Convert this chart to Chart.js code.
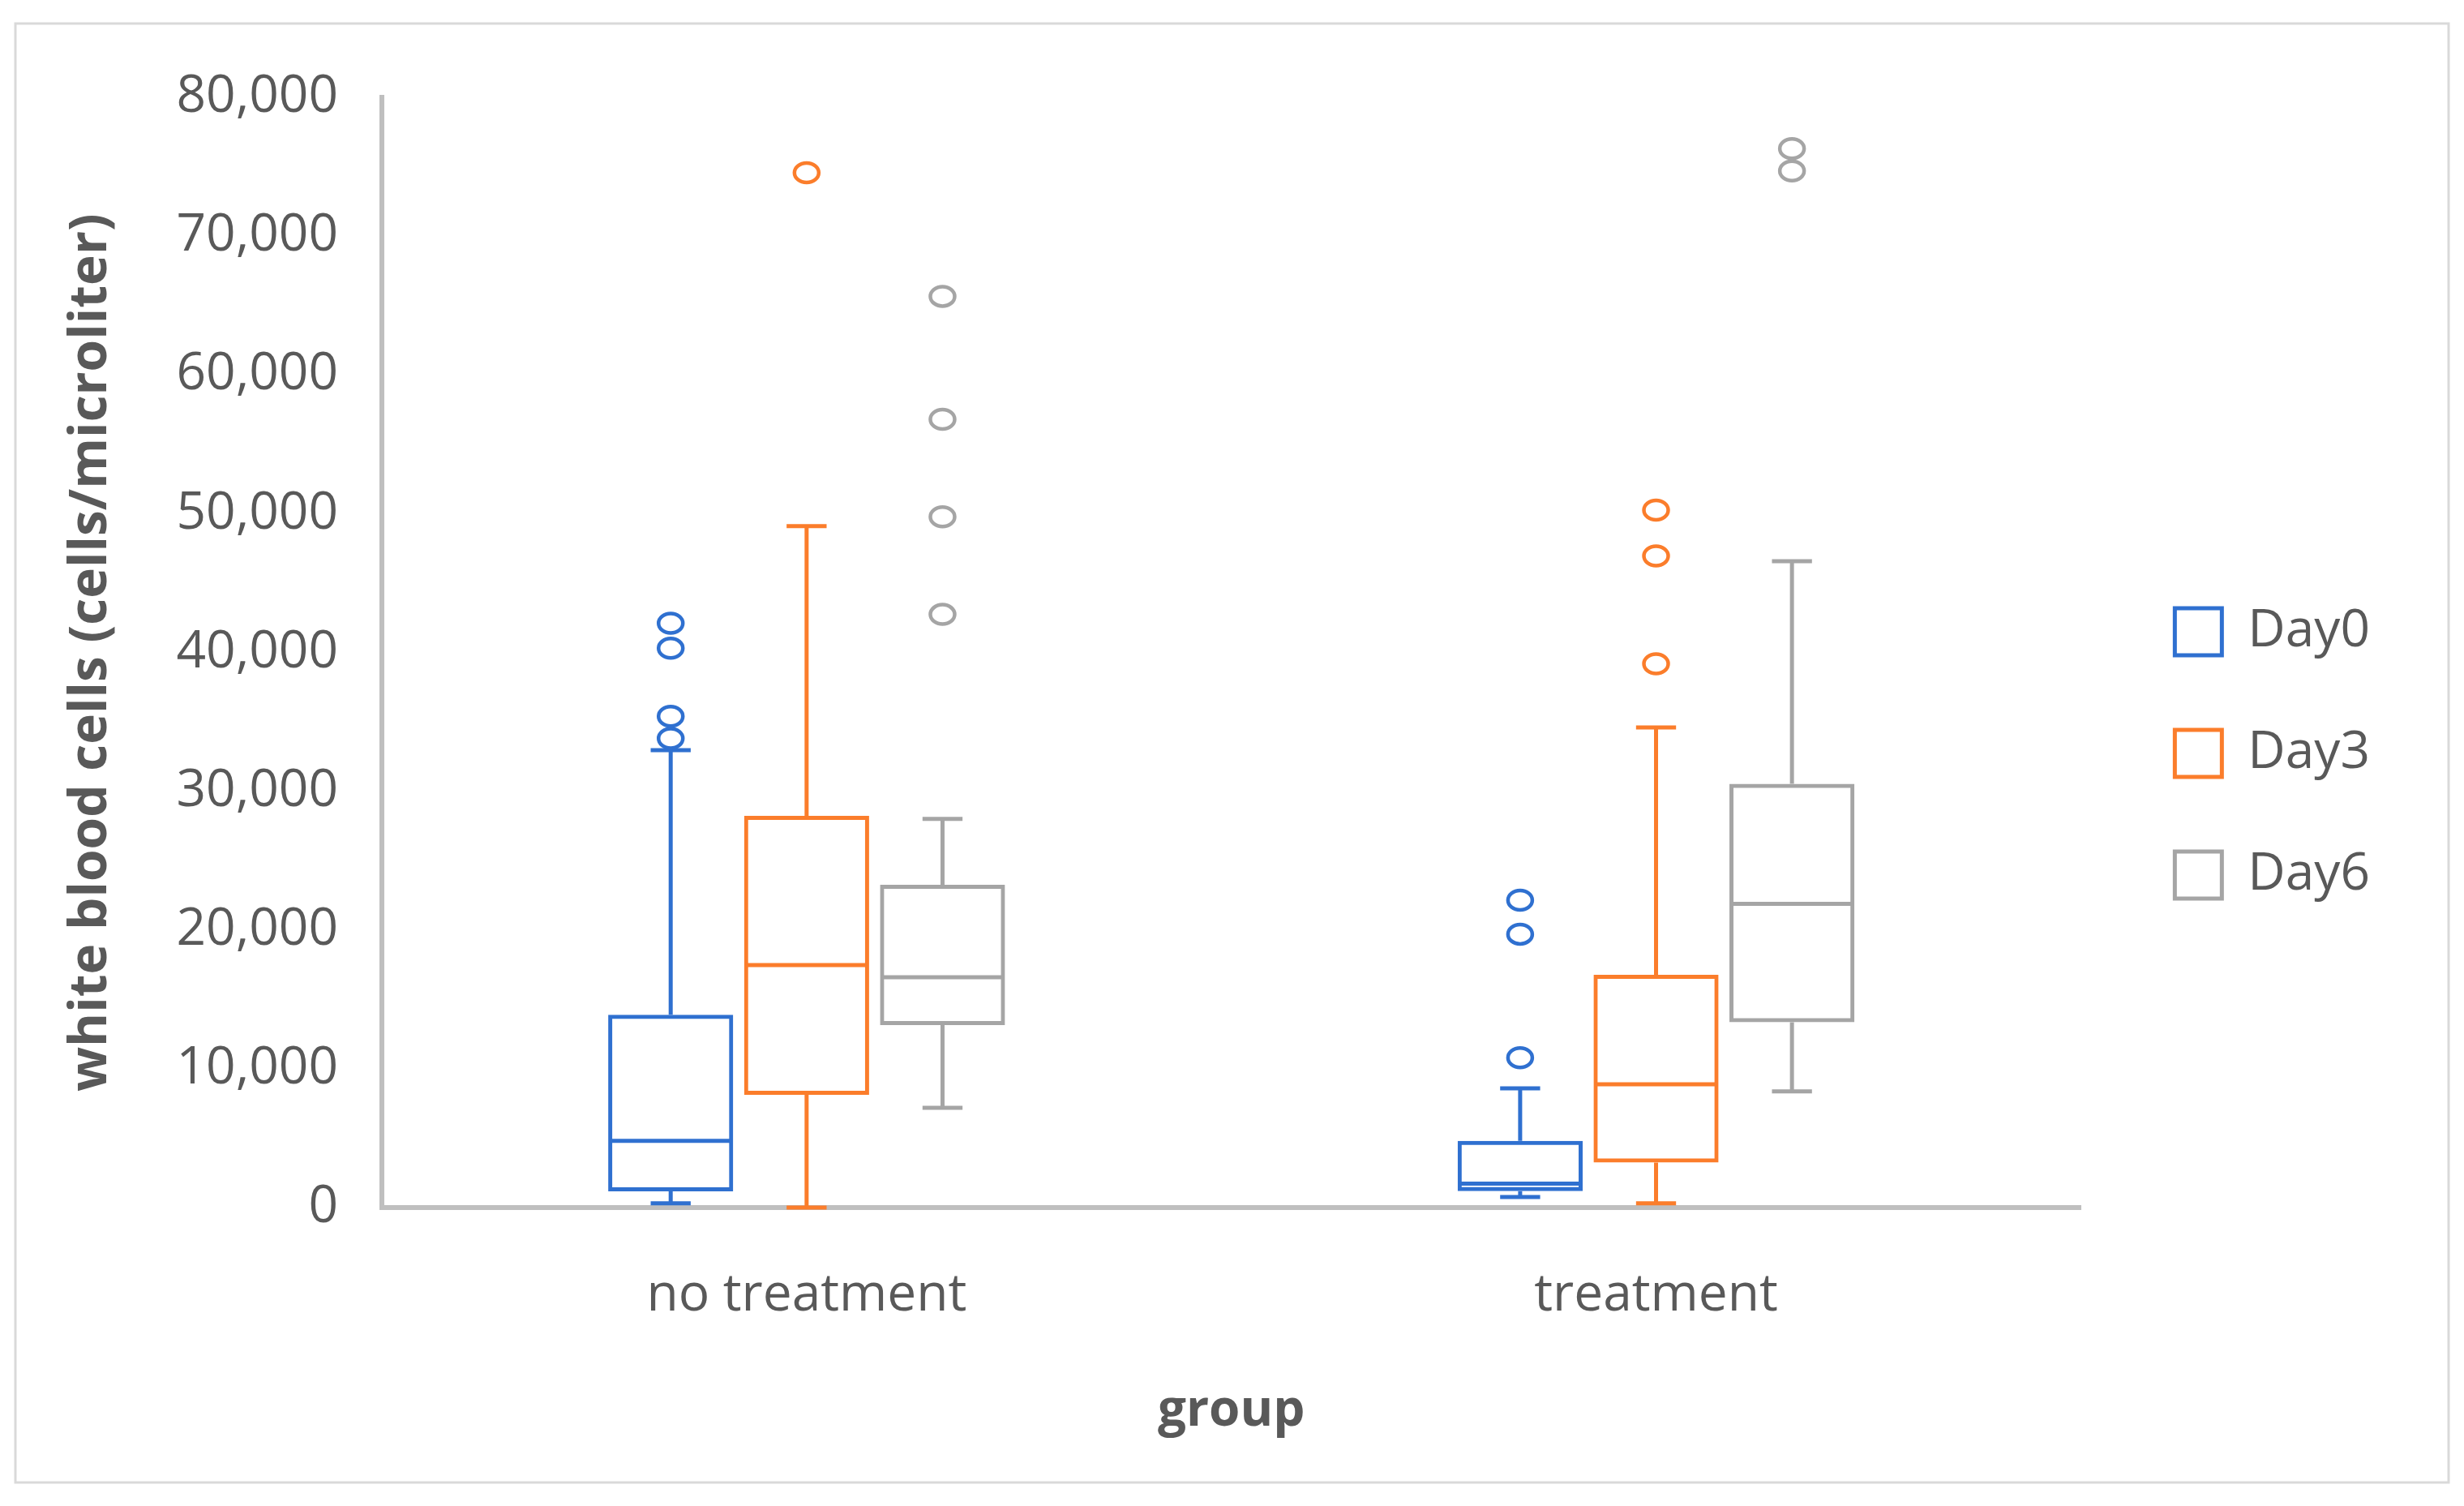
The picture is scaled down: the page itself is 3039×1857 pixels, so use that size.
<!DOCTYPE html>
<html lang="en">
<head>
<meta charset="UTF-8">
<title>White blood cells by group</title>
<script src="https://cdn.jsdelivr.net/npm/chart.js"></script>
<style>
  html, body { margin: 0; padding: 0; background: #fff; }
  .wrap { width: 3039px; height: 1857px; }
</style>
</head>
<body>
<div class="wrap"><canvas id="wbcChart"></canvas></div>
<script>
// categories and series
const groups = ['no treatment', 'treatment'];
const seriesNames = ['Day0', 'Day3', 'Day6'];
const seriesColors = ['#2F70D0', '#FB7D2B', '#A5A5A5'];
const yTicks = [0, 10000, 20000, 30000, 40000, 50000, 60000, 70000, 80000];

// box plot summaries, one entry per group
const day0Min = [300, 760];
const day0Q1 = [1170, 1190];
const day0Median = [4800, 1720];
const day0Q3 = [13900, 4810];
const day0Max = [32960, 8590];
const day0Outliers = [[33800, 35400, 40300, 42100], [10800, 19700, 22150]];

const day3Min = [0, 300];
const day3Q1 = [8120, 3240];
const day3Median = [17470, 8880];
const day3Q3 = [28230, 16770];
const day3Max = [49100, 34600];
const day3Outliers = [[74570], [39180, 46960, 50260]];

const day6Min = [7190, 8370];
const day6Q1 = [13150, 13350];
const day6Median = [16600, 21890];
const day6Q3 = [23260, 30530];
const day6Max = [28000, 46580];
const day6Outliers = [[42740, 49770, 56800, 65660], [74700, 76300]];

const stats = [
  { min: day0Min, q1: day0Q1, median: day0Median, q3: day0Q3, max: day0Max, outliers: day0Outliers },
  { min: day3Min, q1: day3Q1, median: day3Median, q3: day3Q3, max: day3Max, outliers: day3Outliers },
  { min: day6Min, q1: day6Q1, median: day6Median, q3: day6Q3, max: day6Max, outliers: day6Outliers }
];

Chart.defaults.font.family = "'Open Sans', 'Noto Sans', sans-serif";
Chart.defaults.color = '#595959';

// white page with the thin grey frame round the chart
const frame = {
  id: 'frame',
  beforeDraw(chart) {
    const ctx = chart.ctx;
    ctx.save();
    ctx.fillStyle = '#fff';
    ctx.fillRect(0, 0, chart.width, chart.height);
    ctx.strokeStyle = '#d9d9d9';
    ctx.lineWidth = 3;
    ctx.strokeRect(19, 29, chart.width - 38, chart.height - 58);
    ctx.restore();
  }
};

// medians, whiskers and outliers on top of the floating bars
const whiskers = {
  id: 'whiskers',
  afterDatasetsDraw(chart) {
    const ctx = chart.ctx;
    const yScale = chart.scales.y;
    const py = v => yScale.getPixelForValue(v);
    chart.data.datasets.forEach((ds, d) => {
      const s = stats[d];
      chart.getDatasetMeta(d).data.forEach((bar, i) => {
        const x = bar.x;
        const half = bar.width / 2 - 2.5;
        const cap = bar.width * 0.16;
        ctx.save();
        ctx.strokeStyle = ds.borderColor;
        ctx.lineWidth = 5;
        ctx.beginPath();
        ctx.moveTo(x - half, py(s.median[i]));
        ctx.lineTo(x + half, py(s.median[i]));
        ctx.moveTo(x, py(s.q3[i]));
        ctx.lineTo(x, py(s.max[i]));
        ctx.moveTo(x - cap, py(s.max[i]));
        ctx.lineTo(x + cap, py(s.max[i]));
        ctx.moveTo(x, py(s.q1[i]));
        ctx.lineTo(x, py(s.min[i]));
        ctx.moveTo(x - cap, py(s.min[i]));
        ctx.lineTo(x + cap, py(s.min[i]));
        ctx.stroke();
        ctx.lineWidth = 4.5;
        s.outliers[i].forEach(v => {
          ctx.beginPath();
          ctx.ellipse(x, py(v), 15, 12, 0, 0, Math.PI * 2);
          ctx.stroke();
        });
        ctx.restore();
      });
    });
  }
};

const ctx = document.getElementById('wbcChart').getContext('2d');
const wbcChart = new Chart(ctx, {
  type: 'bar',
  data: {
    labels: groups,
    datasets: seriesNames.map((name, d) => ({
      label: name,
      data: groups.map((g, i) => [stats[d].q1[i], stats[d].q3[i]]),
      backgroundColor: 'rgba(255,255,255,0)',
      borderColor: seriesColors[d],
      borderWidth: 5,
      borderSkipped: false,
      categoryPercentage: 0.48,
      barPercentage: 0.92
    }))
  },
  options: {
    responsive: true,
    maintainAspectRatio: false,
    devicePixelRatio: 1,
    animation: false,
    events: [],
    layout: { padding: { top: 120, right: 106, bottom: 119, left: 0 } },
    plugins: {
      tooltip: { enabled: false },
      legend: {
        position: 'right',
        labels: {
          boxWidth: 58,
          boxHeight: 58,
          padding: 86,
          color: '#595959',
          font: { size: 64 }
        }
      }
    },
    scales: {
      x: {
        grid: { display: false, drawTicks: false },
        border: { display: true, color: '#bfbfbf', width: 6 },
        ticks: { padding: 70, color: '#595959', font: { size: 64 } },
        title: {
          display: true,
          text: 'group',
          color: '#595959',
          font: { size: 62, weight: 'bold' },
          padding: { top: 0, bottom: -40 }
        },
        afterFit: s => { s.height = 249; }
      },
      y: {
        min: 0,
        max: 80000,
        grid: { display: false, drawTicks: false },
        border: { display: true, color: '#bfbfbf', width: 6 },
        afterBuildTicks: s => { s.ticks = yTicks.map(v => ({ value: v })); },
        ticks: {
          padding: 54,
          color: '#595959',
          font: { size: 64 },
          callback: v => v.toLocaleString('en-US')
        },
        title: {
          display: true,
          text: 'white blood cells (cells/microliter)',
          color: '#595959',
          font: { size: 64, weight: 'bold' },
          padding: { top: 74, bottom: 0 }
        },
        afterFit: s => { s.width = 471; }
      },
      // empty strip that keeps a gap between the plot and the legend
      gap: {
        type: 'linear',
        position: 'right',
        display: true,
        grid: { display: false, drawTicks: false },
        border: { display: false },
        ticks: { display: false },
        afterFit: s => { s.width = 30; }
      }
    }
  },
  plugins: [frame, whiskers]
});
</script>
</body>
</html>
